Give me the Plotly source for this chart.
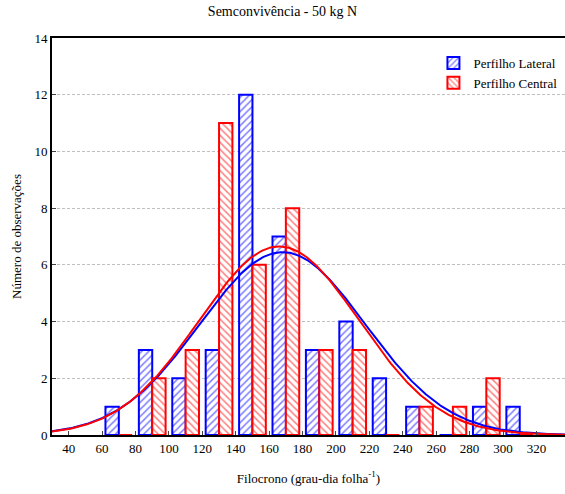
import numpy as np
import plotly.graph_objects as go

# Bin centres (Filocrono, grau-dia folha^-1)
bin_centres = [70, 90, 110, 130, 150, 170, 190, 210, 230, 250, 270, 290, 310]
lateral_counts = [1, 3, 2, 3, 12, 7, 3, 4, 2, 1, 0, 1, 1]
central_counts = [0, 2, 3, 11, 6, 8, 3, 3, 0, 1, 1, 2, 0]

# Normal fit parameters (mean, sd, n)
lateral_fit = dict(mean=168.0, sd=49.5, n=40)
central_fit = dict(mean=166.0, sd=48.0, n=40)
bin_width = 20

x_ticks = [40, 60, 80, 100, 120, 140, 160, 180, 200, 220, 240, 260, 280, 300, 320]
y_ticks = [0, 2, 4, 6, 8, 10, 12, 14]

BLUE = "#0000ff"
RED = "#ff0000"
FONT = "Liberation Serif"


def normal_curve(fit, xs):
    return fit["n"] * bin_width / (fit["sd"] * np.sqrt(2 * np.pi)) * np.exp(
        -0.5 * ((xs - fit["mean"]) / fit["sd"]) ** 2
    )


xs = np.linspace(30, 340, 400)

fig = go.Figure()
fig.add_trace(go.Bar(
    x=bin_centres, y=lateral_counts, name="Perfilho Lateral",
    marker=dict(color="white", line=dict(color=BLUE, width=2),
                pattern=dict(shape="/", fgcolor=BLUE, bgcolor="white", size=5, solidity=0.3)),
))
fig.add_trace(go.Bar(
    x=bin_centres, y=central_counts, name="Perfilho Central",
    marker=dict(color="white", line=dict(color=RED, width=2),
                pattern=dict(shape="\\", fgcolor=RED, bgcolor="white", size=5, solidity=0.3)),
))
fig.add_trace(go.Scatter(x=xs, y=normal_curve(lateral_fit, xs), mode="lines",
                         line=dict(color=BLUE, width=2), showlegend=False, hoverinfo="skip"))
fig.add_trace(go.Scatter(x=xs, y=normal_curve(central_fit, xs), mode="lines",
                         line=dict(color=RED, width=2), showlegend=False, hoverinfo="skip"))

fig.update_layout(
    width=565, height=494,
    margin=dict(l=52, r=0, t=38, b=59),
    paper_bgcolor="white", plot_bgcolor="white",
    font=dict(family=FONT, size=13, color="black"),
    barmode="group", bargap=0.2, bargroupgap=0,
    title=dict(text="Semconvivência - 50 kg N", x=0.5, xanchor="center",
               y=0.988, yanchor="top", font=dict(family=FONT, size=14)),
    legend=dict(x=0.995, y=0.975, xanchor="right", yanchor="top",
                bgcolor="rgba(0,0,0,0)", font=dict(family=FONT, size=13),
                itemsizing="constant", tracegroupgap=0),
    showlegend=True,
)
fig.update_xaxes(
    range=[30, 337.1], tickvals=x_ticks, ticks="inside", ticklen=4,
    showline=True, linecolor="black", linewidth=2, mirror=True,
    showgrid=False, zeroline=False,
    title=dict(text="Filocrono (grau-dia folha<sup>-1</sup>)", standoff=19,
               font=dict(family=FONT, size=13)),
    tickfont=dict(family=FONT, size=13),
)
fig.update_yaxes(
    range=[0, 14], tickvals=y_ticks, ticks="inside", ticklen=4,
    showline=True, linecolor="black", linewidth=2,
    showgrid=True, gridcolor="#c0c0c0", griddash="3px,2px", gridwidth=1,
    zeroline=False,
    title=dict(text="Número de observações", standoff=10,
               font=dict(family=FONT, size=13)),
    tickfont=dict(family=FONT, size=13),
)

fig.write_html("out.html")
